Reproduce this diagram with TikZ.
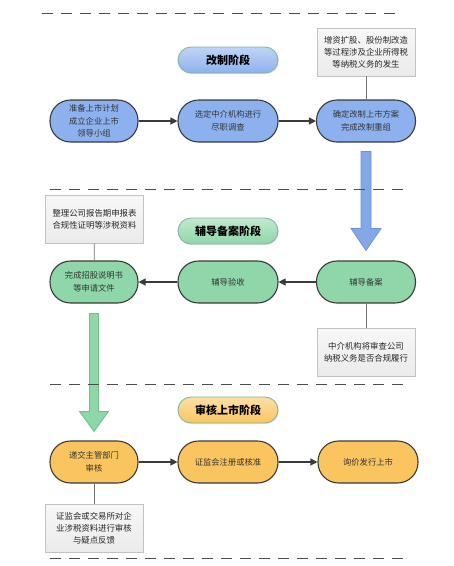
\documentclass[tikz,border=0pt]{standalone}
\usepackage{fontspec}
\setmainfont{Noto Sans CJK SC}
\usetikzlibrary{arrows.meta,calc,shadows}
\definecolor{bluefill}{HTML}{8DB1EE}
\definecolor{greenfill}{HTML}{8FD6A8}
\definecolor{yellowfill}{HTML}{FAC55E}
\definecolor{edgegray}{HTML}{3A3A3A}
\definecolor{notegray}{HTML}{C2C2C2}
\definecolor{labelborder}{HTML}{86B69A}
\definecolor{bigblue}{HTML}{84A7E8}
\definecolor{bigblueedge}{HTML}{6E93DC}
\definecolor{biggreen}{HTML}{8ED8A8}
\definecolor{biggreenedge}{HTML}{6CC08C}
\begin{document}
\begin{tikzpicture}[x=1pt,y=-1pt,
  stage/.style={rectangle, rounded corners=20.5pt, draw=edgegray, line width=1.1pt,
    minimum height=42pt, inner sep=2pt, align=center, text=black!80,
    font=\fontsize{8.3}{12.5}\selectfont},
  bluestage/.style={stage, fill=bluefill},
  greenstage/.style={stage, fill=greenfill},
  yellowstage/.style={stage, fill=yellowfill},
  phase/.style={rectangle, rounded corners=13pt, draw=labelborder, line width=0.9pt,
    minimum width=100pt, minimum height=26pt, inner sep=0pt,
    font=\fontsize{11}{13}\selectfont\bfseries,
    drop shadow={opacity=0.2, shadow xshift=0.8pt, shadow yshift=-1.2pt}},
  note/.style={rectangle, draw=notegray, line width=0.8pt, top color=gray!6, bottom color=gray!16,
    minimum width=98pt, minimum height=48pt, inner sep=2pt, align=center, text=black!85,
    font=\fontsize{8.4}{12}\selectfont,
    drop shadow={opacity=0.15, shadow xshift=0.8pt, shadow yshift=-0.8pt}},
  flow/.style={draw=edgegray, line width=1.1pt, -{Triangle[length=7pt,width=7pt]}},
  noteline/.style={draw=black!55, line width=0.8pt},
  sep/.style={draw=black!70, line width=0.9pt, dash pattern=on 11pt off 8pt}
]
\useasboundingbox (0,0) rectangle (454,566);

% phase 1
\node[phase, top color=bluefill!55!white, bottom color=bluefill] (p1) at (228,60) {改制阶段};
\node[bluestage, minimum width=88pt] (a1) at (94,121) {准备上市计划\\成立企业上市\\领导小组};
\node[bluestage, minimum width=100pt] (b1) at (228,121) {选定中介机构进行\\尽职调查};
\node[bluestage, minimum width=99pt] (c1) at (366,121) {确定改制上市方案\\完成改制重组};
\node[note] (n1) at (366,52) {增资扩股、股份制改造\\等过程涉及企业所得税\\等纳税义务的发生};
\draw[flow] (a1) -- (b1);
\draw[flow] (b1) -- (c1);
\draw[noteline] (n1) -- (c1);

% phase 2
\node[phase, top color=greenfill!55!white, bottom color=greenfill] (p2) at (228,231) {辅导备案阶段};
\node[greenstage, minimum width=88pt] (a2) at (94,282) {完成招股说明书\\等申请文件};
\node[greenstage, minimum width=100pt] (b2) at (228,282) {辅导验收};
\node[greenstage, minimum width=99pt] (c2) at (366,282) {辅导备案};
\node[note] (n2) at (94.5,219) {整理公司报告期申报表\\合规性证明等涉税资料};
\node[note] (n3) at (366,352) {中介机构将审查公司\\纳税义务是否合规履行};
\draw[flow] (c2) -- (b2);
\draw[flow] (b2) -- (a2);
\draw[noteline] (n2) -- (a2);
\draw[noteline] (c2) -- (n3);

% phase 3
\node[phase, top color=yellowfill!55!white, bottom color=yellowfill] (p3) at (228,410) {审核上市阶段};
\node[yellowstage, minimum width=88pt] (a3) at (94,462) {递交主管部门\\审核};
\node[yellowstage, minimum width=100pt] (b3) at (228,462) {证监会注册或核准};
\node[yellowstage, minimum width=100pt] (c3) at (368,462) {询价发行上市};
\node[note] (n4) at (94,528) {证监会或交易所对企\\业涉税资料进行审核\\与疑点反馈};
\draw[flow] (a3) -- (b3);
\draw[flow] (b3) -- (c3);
\draw[noteline] (a3) -- (n4);

% big blue arrow from c1 to c2
\coordinate (bs) at ($(c1.south)+(0,9)$);
\coordinate (bt) at ($(c2.north)+(0,-10)$);
\draw[fill=bigblue, draw=bigblueedge, line width=0.8pt, line join=miter]
  ($(bs)+(-5,0)$) -- ($(bt)+(-5,-22)$) -- ($(bt)+(-15,-22)$) -- (bt)
  -- ($(bt)+(15,-22)$) -- ($(bt)+(5,-22)$) -- ($(bs)+(5,0)$) -- cycle;

% big green arrow from a2 to a3
\coordinate (gs) at ($(a2.south)+(0,10)$);
\coordinate (gt) at ($(a3.north)+(0,-9)$);
\draw[fill=biggreen, draw=biggreenedge, line width=0.8pt, line join=miter]
  ($(gs)+(-4.5,0)$) -- ($(gt)+(-4.5,-20)$) -- ($(gt)+(-14.5,-20)$) -- (gt)
  -- ($(gt)+(14.5,-20)$) -- ($(gt)+(4.5,-20)$) -- ($(gs)+(4.5,0)$) -- cycle;

% separators (drawn on top)
\coordinate (s1a) at (42,13);  \coordinate (s1b) at (402,13);
\coordinate (s2a) at (50,189); \coordinate (s2b) at (408,189);
\coordinate (s3a) at (50,384); \coordinate (s3b) at (408,384);
\coordinate (s4a) at (50,558); \coordinate (s4b) at (408,558);
\draw[sep] (s1a) -- (s1b);
\draw[sep] (s2a) -- (s2b);
\draw[sep] (s3a) -- (s3b);
\draw[sep] (s4a) -- (s4b);
\end{tikzpicture}
\end{document}
